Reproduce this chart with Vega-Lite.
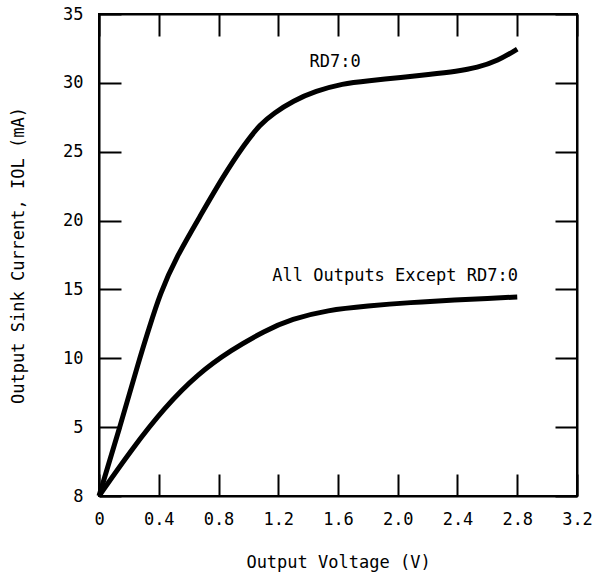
{
  "$schema": "https://vega.github.io/schema/vega-lite/v6.json",
  "width": 478,
  "height": 482,
  "autosize": {"type": "none"},
  "padding": {"left": 99, "top": 14, "right": 21, "bottom": 82},
  "background": "white",
  "config": {
    "view": {"stroke": "black", "strokeWidth": 2},
    "font": "DejaVu Sans Mono",
    "axis": {
      "labelFont": "DejaVu Sans Mono", "titleFont": "DejaVu Sans Mono",
      "labelFontSize": 17, "titleFontSize": 17, "titleFontWeight": "normal",
      "labelColor": "black", "titleColor": "black",
      "grid": false, "domainColor": "black", "domainWidth": 2,
      "tickColor": "black", "tickWidth": 2, "tickSize": -22
    }
  },
  "datasets": {
    "curves": [
      {"series": "RD7:0", "v": 0, "i": 0},
      {"series": "RD7:0", "v": 0.14, "i": 5},
      {"series": "RD7:0", "v": 0.272, "i": 10},
      {"series": "RD7:0", "v": 0.33, "i": 12},
      {"series": "RD7:0", "v": 0.408, "i": 14.7},
      {"series": "RD7:0", "v": 0.52, "i": 17.4},
      {"series": "RD7:0", "v": 0.676, "i": 20.3},
      {"series": "RD7:0", "v": 0.83, "i": 23.2},
      {"series": "RD7:0", "v": 0.977, "i": 25.6},
      {"series": "RD7:0", "v": 1.08, "i": 27.0},
      {"series": "RD7:0", "v": 1.17, "i": 27.8},
      {"series": "RD7:0", "v": 1.3, "i": 28.7},
      {"series": "RD7:0", "v": 1.45, "i": 29.4},
      {"series": "RD7:0", "v": 1.63, "i": 29.95},
      {"series": "RD7:0", "v": 1.8, "i": 30.15},
      {"series": "RD7:0", "v": 2.03, "i": 30.4},
      {"series": "RD7:0", "v": 2.2, "i": 30.6},
      {"series": "RD7:0", "v": 2.4, "i": 30.85},
      {"series": "RD7:0", "v": 2.53, "i": 31.1},
      {"series": "RD7:0", "v": 2.67, "i": 31.6},
      {"series": "RD7:0", "v": 2.8, "i": 32.45},
      {"series": "All", "v": 0, "i": 0},
      {"series": "All", "v": 0.216, "i": 3.35},
      {"series": "All", "v": 0.44, "i": 6.45},
      {"series": "All", "v": 0.665, "i": 8.9},
      {"series": "All", "v": 0.885, "i": 10.6},
      {"series": "All", "v": 1.11, "i": 12.0},
      {"series": "All", "v": 1.29, "i": 12.85},
      {"series": "All", "v": 1.53, "i": 13.5},
      {"series": "All", "v": 1.8, "i": 13.8},
      {"series": "All", "v": 2.08, "i": 14.05},
      {"series": "All", "v": 2.4, "i": 14.25},
      {"series": "All", "v": 2.6, "i": 14.35},
      {"series": "All", "v": 2.8, "i": 14.45}
    ],
    "labels": [
      {"v": 1.41, "i": 31.5, "text": "RD7:0"},
      {"v": 1.16, "i": 16.0, "text": "All Outputs Except RD7:0"}
    ]
  },
  "layer": [
    {
      "data": {"name": "curves"},
      "mark": {"type": "line", "color": "black", "strokeWidth": 5, "interpolate": "basis", "strokeCap": "butt"},
      "encoding": {
        "x": {"field": "v", "type": "quantitative", "scale": {"domain": [0, 3.2], "nice": false, "zero": false},
          "axis": {"orient": "bottom", "title": "Output Voltage (V)", "values": [0, 0.4, 0.8, 1.2, 1.6, 2.0, 2.4, 2.8, 3.2],
            "labelExpr": "datum.value == 0 ? '0' : format(datum.value, '.1f')", "labelPadding": 37, "titleY": 58, "labelFlush": false, "labelOverlap": false}},
        "y": {"field": "i", "type": "quantitative", "scale": {"domain": [0, 35], "nice": false},
          "axis": {"orient": "left", "title": "Output Sink Current, IOL (mA)", "values": [0, 5, 10, 15, 20, 25, 30, 35],
            "labelExpr": "datum.value == 0 ? '8' : datum.label", "labelPadding": 38, "titleX": -72, "titleBaseline": "bottom", "labelFlush": false, "labelOverlap": false}},
        "detail": {"field": "series"}
      }
    },
    {
      "data": {"name": "labels"},
      "mark": {"type": "text", "align": "left", "baseline": "middle", "fontSize": 17, "font": "DejaVu Sans Mono", "color": "black"},
      "encoding": {
        "x": {"field": "v", "type": "quantitative", "axis": {"orient": "top", "title": null, "labels": false, "domain": true, "values": [0, 0.4, 0.8, 1.2, 1.6, 2.0, 2.4, 2.8, 3.2]}},
        "y": {"field": "i", "type": "quantitative", "axis": {"orient": "right", "title": null, "labels": false, "domain": true, "values": [0, 5, 10, 15, 20, 25, 30, 35]}},
        "text": {"field": "text"}
      }
    }
  ],
  "resolve": {"axis": {"x": "independent", "y": "independent"}}
}
